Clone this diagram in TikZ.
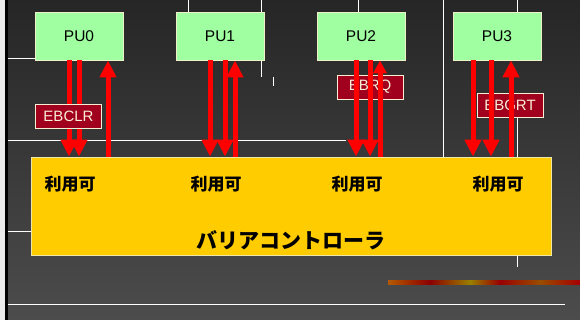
\documentclass[tikz,border=0pt]{standalone}
\usepackage{fontspec}
\setmainfont{Liberation Sans}
\newfontfamily\cjk{Noto Sans CJK JP}
\usetikzlibrary{arrows.meta}
\definecolor{bgtop}{HTML}{262626}
\definecolor{bgbot}{HTML}{4C4C4C}
\definecolor{pugreen}{HTML}{A0FFA0}
\definecolor{pubord}{HTML}{F0F0C8}
\definecolor{baryellow}{HTML}{FFCC00}
\definecolor{barbord}{HTML}{EEE6A8}
\definecolor{sigred}{HTML}{A0001E}
\definecolor{sigtext}{HTML}{FAEED2}
\definecolor{arrred}{HTML}{FF0000}
\begin{document}
\begin{tikzpicture}[x=1pt,y=-1pt,
  pu/.style={draw=pubord, line width=0.8pt, fill=pugreen, minimum width=88pt, minimum height=48pt, inner sep=0pt, font=\fontsize{15.5}{17}\selectfont},
  bar/.style={draw=barbord, line width=0.8pt, fill=baryellow, minimum width=520pt, minimum height=98pt, inner sep=0pt},
  sig/.style={draw=sigtext, line width=0.6pt, fill=sigred, text=sigtext, minimum width=66pt, minimum height=24pt, inner sep=0pt, font=\fontsize{15}{16}\selectfont},
  avail/.style={font=\cjk\bfseries\fontsize{17}{19}\selectfont, inner sep=0pt},
  title/.style={font=\cjk\bfseries\fontsize{21}{24}\selectfont, inner sep=0pt},
  dn/.style={draw=arrred, line width=5pt, -{Triangle[width=16pt,length=17pt]}, fill=arrred},
  upsmall/.style={draw=arrred, line width=5pt, -{Triangle[width=13pt,length=13pt]}, fill=arrred},
  grid/.style={draw=white, line width=0.8pt}]
\useasboundingbox (0,0) rectangle (580,320);
% background
\shade[top color=bgtop, bottom color=bgbot] (0,0) rectangle (580,320);
\fill[black!8] (0,0) rectangle (5,320);
\fill[black] (5,0) rectangle (7.5,320);
% background white lines
\draw[grid] (7.5,58) -- (40,58);
\draw[grid] (7.5,140) -- (346,140);
\draw[grid] (7.5,231) -- (40,231);
\draw[grid] (7.5,304) -- (565,304);
\draw[grid] (188,0) -- (188,20);
\draw[grid] (261,0) -- (261,77);
\draw[grid] (273,77) -- (273,86);
\draw[grid] (358,0) -- (358,20);
\draw[grid] (443,0) -- (443,160);
\draw[grid] (517,0) -- (517,20);
\draw[grid] (517,117) -- (517,160);
\draw[grid] (517,250) -- (517,267);
% textured stripe
\shade[left color=orange!70!black, right color=red!55!black] (388,280) rectangle (430,284);
\shade[left color=red!55!black, right color=olive!80!orange] (430,280) rectangle (470,284);
\shade[left color=olive!80!orange, right color=red!60!black] (470,280) rectangle (500,284);
\shade[left color=red!60!black, right color=orange!60!black] (500,280) rectangle (540,284);
\shade[left color=orange!60!black, right color=red!65!black] (540,280) rectangle (580,284);
% nodes
\node[pu] (pu0) at (79,36) {PU0};
\node[pu] (pu1) at (220,36) {PU1};
\node[pu] (pu2) at (361,36) {PU2};
\node[pu] (pu3) at (497,36) {PU3};
\node[bar] (bar) at (291,206) {};
\node[avail] (a0) at (70,184) {利用可};
\node[avail] (a1) at (216,184) {利用可};
\node[avail] (a2) at (357,184) {利用可};
\node[avail] (a3) at (498,184) {利用可};
\node[title] (ttl) at (291,240) {バリアコントローラ};
% signal labels behind arrows
\node[sig] (ebrq) at (370,87) {EBRQ};
\node[sig] (ebgrt) at (510,105) {EBGRT};
% arrows PU0
\draw[dn] (pu0.south -| 69,0) -- (bar.north -| 69,0);
\draw[dn] (pu0.south -| 79,0) -- (bar.north -| 79,0);
\draw[dn] (bar.north -| 108,0) -- (pu0.south -| 108,0);
% arrows PU1
\draw[dn] (pu1.south -| 210,0) -- (bar.north -| 210,0);
\draw[dn] (pu1.south -| 225,0) -- (bar.north -| 225,0);
\draw[dn] (bar.north -| 235,0) -- (pu1.south -| 235,0);
% arrows PU2
\draw[dn] (pu2.south -| 356,0) -- (bar.north -| 356,0);
\draw[dn] (pu2.south -| 370,0) -- (bar.north -| 370,0);
\draw[upsmall] (bar.north -| 380,0) -- (pu2.south -| 380,0);
% arrows PU3
\draw[dn] (pu3.south -| 473,0) -- (bar.north -| 473,0);
\draw[dn] (pu3.south -| 491,0) -- (bar.north -| 491,0);
\draw[dn] (bar.north -| 511,0) -- (pu3.south -| 511,0);
% label in front
\node[sig] (ebclr) at (68.5,116) {EBCLR};
\end{tikzpicture}
\end{document}
